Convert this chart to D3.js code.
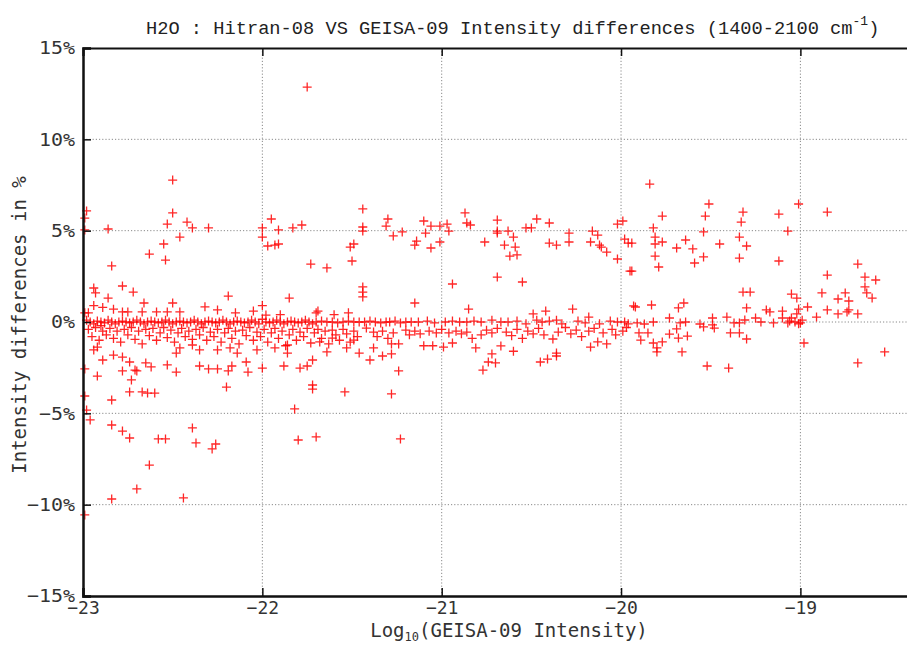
<!DOCTYPE html>
<html>
<head>
<meta charset="utf-8">
<script src="https://cdn.jsdelivr.net/npm/d3@7"></script>
<style>
  body { margin: 0; background: #fff; }
  svg { display: block; }
</style>
</head>
<body>
<svg id="chart" width="907" height="646"></svg>
<script>
// axis ticks
var xTicks = [-23, -22, -21, -20, -19];
var yTicks = [-15, -10, -5, 0, 5, 10, 15];

// [log10 intensity, % difference]
// points well above the zero band
var upperPts = [
  [-22.98,6.08],[-22.99,5.69],[-22.99,5.04],[-22.86,5.09],[-22.84,3.07],
  [-22.50,7.77],[-22.50,5.97],[-22.53,5.36],[-22.42,5.47],[-22.39,5.15],[-22.30,5.15],[-22.46,4.65],[-22.55,4.27],[-22.63,3.72],[-22.54,3.39],
  [-22.00,5.15],[-21.95,5.64],[-21.91,5.04],[-21.83,5.15],[-21.78,5.31],[-22.00,4.65],[-21.97,4.16],[-21.93,4.21],[-21.91,4.27],[-21.73,3.17],[-21.64,2.96],
  [-21.44,6.19],[-21.44,5.20],[-21.44,4.98],[-21.51,4.10],[-21.49,4.27],[-21.50,3.34],[-21.44,1.92],[-21.44,1.64],[-21.44,1.37],
  [-22.19,1.42],[-22.78,1.97],[-22.72,1.64],[-22.94,1.86],[-22.93,1.59],[-22.86,1.31],[-22.66,1.04],[-21.85,1.31],
  [-21.30,5.64],[-21.31,5.25],[-21.27,4.71],[-21.22,4.93],[-21.10,5.53],[-21.06,5.25],[-21.09,4.87],[-21.14,4.43],[-21.15,4.21],[-21.06,4.05],
  [-21.01,5.25],[-20.97,5.36],[-20.96,4.98],[-21.01,4.38],[-20.87,5.97],[-20.86,5.42],[-20.84,5.31],[-20.76,4.38],[-20.69,5.58],[-20.69,4.98],
  [-20.69,4.87],[-20.63,4.98],[-20.60,4.65],[-20.65,4.21],[-20.59,4.10],[-20.62,3.61],[-20.58,3.67],[-20.53,5.15],[-20.50,5.15],[-20.47,5.64],
  [-20.40,5.42],[-20.40,4.32],[-20.36,4.21],[-20.29,4.87],[-20.29,4.38],[-20.17,4.38],[-20.16,4.98],[-20.13,4.76],[-20.12,4.21],[-20.11,4.10],
  [-20.08,3.83],[-20.02,3.45],[-20.02,5.36],[-19.99,5.53],[-19.98,4.54],[-19.96,4.32],[-19.95,2.79],[-20.69,2.46],[-20.55,2.19],[-20.94,2.08],
  [-21.15,1.04],[-20.85,0.71],[-20.49,0.44],[-20.42,0.60],[-20.27,0.71],[-20.18,0.27],[-19.93,0.88],
  [-19.84,7.55],[-19.51,6.46],[-19.77,5.80],[-19.53,5.80],[-19.32,6.02],[-19.33,5.47],[-19.12,5.91],[-19.01,6.46],[-18.85,6.02],[-19.82,5.15],
  [-19.54,4.93],[-19.07,4.98],[-19.81,4.65],[-19.77,4.38],[-19.64,4.49],[-19.69,4.05],[-19.60,4.00],[-19.45,4.27],[-19.34,4.65],[-19.30,4.16],
  [-19.81,4.27],[-19.81,3.61],[-19.79,3.01],[-19.59,3.23],[-19.54,3.56],[-19.34,3.50],[-19.12,3.34],[-19.94,4.32],[-19.94,2.79],[-18.68,3.17],
  [-18.85,2.57],[-18.64,2.46],[-18.58,2.30],[-18.64,1.92],[-18.63,1.59],[-18.60,1.31],[-18.88,1.59],[-18.75,1.59],[-18.79,1.26],[-18.73,1.15],
  [-19.32,1.64],[-19.28,1.64],[-19.05,1.53],[-19.02,1.31]
];

// the single big outlier
var outlierPts = [[-21.75,12.86]];

// the dense band around 0%
var bandPts = [
  [-22.98,0.1],[-22.96,0],[-22.94,-0.1],[-22.92,0.05],[-22.90,0],[-22.88,-0.05],[-22.86,0.1],[-22.84,0],[-22.82,-0.1],[-22.80,0],
  [-22.78,0.05],[-22.76,0],[-22.74,-0.05],[-22.72,0],[-22.70,0.1],[-22.68,0],[-22.66,-0.1],[-22.64,0],[-22.62,0.05],[-22.60,0],
  [-22.58,-0.05],[-22.56,0],[-22.54,0.1],[-22.52,0],[-22.50,-0.1],[-22.48,0],[-22.46,0.05],[-22.44,0],[-22.42,-0.05],[-22.40,0],
  [-22.38,0.1],[-22.36,0],[-22.34,-0.1],[-22.32,0],[-22.30,0.05],[-22.28,0],[-22.26,-0.05],[-22.24,0],[-22.22,0.1],[-22.20,0],
  [-22.18,-0.1],[-22.16,0],[-22.14,0.05],[-22.12,0],[-22.10,-0.05],[-22.08,0],[-22.06,0.1],[-22.04,0],[-22.02,-0.1],[-22.00,0.15],
  [-21.98,0],[-21.96,-0.05],[-21.94,0],[-21.92,0.1],[-21.90,0],[-21.88,-0.1],[-21.86,0],[-21.84,0.05],[-21.82,0],[-21.80,-0.05],
  [-21.78,0],[-21.76,0.1],[-21.74,0],[-21.72,-0.1],[-21.70,0],[-21.67,0.05],[-21.64,0],[-21.61,0],[-21.58,-0.05],[-21.55,0],
  [-21.52,0.05],[-21.49,0],[-21.46,0],
  [-21.43,0],[-21.40,0.05],[-21.37,0],[-21.34,-0.05],[-21.31,0],[-21.29,0],[-21.26,0.05],[-21.23,-0.05],[-21.20,0],[-21.17,0],
  [-21.13,0],[-21.08,0.05],[-21.04,-0.05],[-20.98,0],[-20.94,0.05],[-20.90,0],[-20.86,0],[-20.82,0.05],[-20.78,0],[-20.72,0.1],
  [-20.67,0],[-20.63,0],[-20.58,0.05],[-20.53,-0.1],[-20.47,0.1],[-20.44,0],[-20.40,0.05],[-20.36,0.1],[-20.33,-0.1],[-20.24,0.05],
  [-20.20,-0.05],[-20.12,-0.1],[-20.06,0.05],[-20.02,0],[-19.98,0],[-19.96,-0.1],
  [-19.92,0.82],[-19.83,0.93],[-19.65,1.04],[-19.68,0.77],[-19.30,0.77],[-19.19,0.66],[-19.10,0.60],[-19.01,0.71],[-18.96,0.82],[-18.85,0.66],
  [-18.73,0.66],[-18.68,0.44],[-18.79,0.44],[-18.74,0.55],[-18.91,0.27],
  [-19.91,-0.05],[-19.87,-0.11],[-19.82,0],[-19.73,0.22],[-19.67,-0.05],[-19.64,0],[-19.56,-0.11],[-19.49,0.22],[-19.49,-0.16],[-19.48,-0.33],
  [-19.41,0.27],[-19.37,-0.05],[-19.34,-0.05],[-19.31,0.11],[-19.25,0.22],[-19.22,0],[-19.17,0.55],[-19.15,-0.05],[-19.10,0.22],[-19.07,-0.05],
  [-19.05,0.22],[-19.02,0.44],[-19.00,-0.05],[-19.03,0],[-19.01,-0.1],[-18.99,0.1],[-19.06,0.05],
  [-22.97,0.5],[-22.94,0.9],[-22.89,0.8],[-22.83,0.7],[-22.78,0.55],[-22.99,0.5],[-22.75,0.55],[-22.67,0.55],[-22.59,0.55],[-22.53,0.55],
  [-22.46,0.55],[-22.32,0.83],[-22.25,0.66],[-22.90,-0.2],[-22.50,1.04],[-22.15,0.5],[-22.05,0.6],[-21.90,0.4],[-22.00,0.9],[-21.70,0.5],
  [-21.69,0.6],[-21.60,0.4],[-21.52,0.5],[-21.98,0.38]
];

// just under the band
var subBandPts = [
  [-22.97,-0.4],[-22.95,-0.8],[-22.93,-0.3],[-22.91,-1.0],[-22.89,-0.5],[-22.87,-0.7],[-22.85,-0.35],[-22.83,-0.9],[-22.81,-0.5],[-22.79,-1.1],
  [-22.77,-0.4],[-22.75,-0.7],[-22.73,-0.3],[-22.71,-0.95],[-22.69,-0.5],[-22.67,-1.2],[-22.65,-0.4],[-22.63,-0.75],[-22.61,-0.35],[-22.59,-1.0],
  [-22.57,-0.6],[-22.55,-0.3],[-22.53,-0.85],[-22.51,-0.45],[-22.49,-1.1],[-22.47,-0.6],[-22.45,-0.35],[-22.43,-0.8],[-22.41,-0.5],[-22.39,-0.95],
  [-22.37,-0.4],[-22.35,-0.7],[-22.33,-0.3],[-22.31,-1.0],[-22.29,-0.55],[-22.27,-0.8],[-22.25,-0.4],[-22.23,-1.1],[-22.21,-0.6],[-22.19,-0.35],
  [-22.17,-0.9],[-22.15,-0.5],[-22.13,-1.2],[-22.11,-0.45],[-22.09,-0.75],[-22.07,-0.3],[-22.05,-1.0],[-22.03,-0.55],[-22.01,-0.8],[-21.99,-0.4],
  [-21.97,-1.1],[-21.95,-0.6],[-21.93,-0.35],[-21.91,-0.9],[-21.89,-0.5],[-21.87,-1.3],[-21.85,-0.7],[-21.83,-0.4],[-21.81,-1.0],[-21.79,-0.55],
  [-21.77,-0.8],[-21.75,-0.35],[-21.73,-1.15],[-21.71,-0.6],[-21.69,-0.4],[-21.67,-0.9],[-21.65,-0.5],[-21.63,-1.2],[-21.61,-0.45],[-21.59,-0.7],
  [-21.57,-1.0],[-21.55,-0.4],[-21.53,-0.65],[-21.51,-1.1],[-21.49,-0.5],[-21.47,-0.8],
  [-21.42,-0.33],[-21.38,-0.55],[-21.36,-0.8],[-21.33,-0.5],[-21.30,-0.9],[-21.27,-0.6],[-21.24,-1.2],[-21.20,-0.45],[-21.18,-0.7],[-21.15,-0.5],
  [-21.12,-0.65],[-21.10,-1.3],[-21.07,-0.5],[-21.05,-1.3],[-21.03,-0.6],[-21.00,-0.4],[-20.99,-1.37],[-20.96,-0.6],[-20.94,-1.15],[-20.92,-0.5],
  [-20.89,-0.65],[-20.86,-0.55],[-20.83,-0.9],[-20.81,-1.42],[-20.78,-0.7],[-20.75,-0.45],[-20.72,-0.6],[-20.69,-0.35],[-20.67,-1.31],[-20.64,-0.55],
  [-20.61,-0.75],[-20.58,-0.4],[-20.55,-0.9],[-20.52,-0.5],[-20.49,-0.65],[-20.46,-0.35],[-20.43,-0.7],[-20.38,-0.93],[-20.35,-0.55],[-20.31,-0.3],
  [-20.28,-0.65],[-20.25,-0.45],[-20.22,-0.8],[-20.18,-0.5],[-20.15,-0.35],[-20.13,-1.09],[-20.10,-0.6],[-20.08,-1.2],[-20.05,-0.4],[-20.03,-0.7],
  [-19.99,-0.5],[-19.97,-0.3],
  [-19.90,-0.60],[-19.85,-0.60],[-19.89,-0.99],[-19.82,-1.15],[-19.80,-1.42],[-19.80,-1.64],[-19.77,-1.09],[-19.73,-0.66],[-19.69,-0.38],[-19.68,-0.88],
  [-19.63,-0.77],[-19.66,-1.64],[-19.54,-0.27],[-19.39,-0.60],[-19.34,-0.60],[-19.30,-0.93],[-18.98,-1.15]
];

// points further down
var lowerPts = [
  [-21.24,-2.68],[-20.77,-2.63],[-20.72,-1.75],[-20.70,-2.24],[-20.74,-2.19],[-20.45,-2.19],[-20.41,-2.03],[-20.36,-1.70],[-20.36,-1.86],[-21.28,-1.20],
  [-21.28,-1.75],[-21.33,-1.86],[-21.28,-3.94],[-21.23,-6.40],[-20.17,-1.37],[-20.60,-1.60],
  [-19.52,-2.41],[-19.40,-2.52],[-18.68,-2.24],[-18.53,-1.64],
  [-22.99,-2.57],[-22.92,-2.96],[-22.99,-4.05],[-22.98,-4.82],[-22.96,-5.36],[-22.99,-10.56],[-22.84,-4.27],[-22.84,-5.64],[-22.78,-5.97],[-22.74,-6.35],
  [-22.74,-3.83],[-22.67,-3.83],[-22.64,-3.89],[-22.60,-3.89],[-22.73,-3.17],[-22.78,-2.68],[-22.70,-2.68],[-22.63,-7.83],[-22.70,-9.14],[-22.84,-9.69],
  [-22.58,-6.40],[-22.54,-6.40],[-22.39,-5.80],[-22.37,-6.62],[-22.28,-6.95],[-22.26,-6.68],[-22.44,-9.63],[-22.20,-3.56],[-22.35,-2.41],[-22.30,-2.57],
  [-22.25,-2.57],[-22.19,-2.68],[-22.17,-2.41],[-22.08,-2.74],[-22.00,-2.52],[-22.09,-2.19],[-22.48,-2.74],[-21.82,-4.76],[-21.80,-6.46],[-21.70,-6.29],
  [-21.72,-3.45],[-21.72,-3.67],[-21.54,-3.83],[-21.88,-2.41],[-21.79,-2.52],[-21.75,-2.41],[-21.72,-2.08],
  [-22.89,-2.08],[-22.94,-1.53],[-22.92,-1.37],[-22.83,-1.81],[-22.78,-1.92],[-22.74,-2.19],[-22.71,-2.63],[-22.65,-2.24],[-22.62,-2.46],[-22.53,-2.35],
  [-22.48,-1.70],[-22.46,-1.42],[-22.39,-1.26],[-22.35,-1.53],[-22.25,-1.53],[-22.18,-1.42],[-22.14,-1.70],[-22.03,-1.53],[-21.93,-1.42],[-21.86,-1.70],
  [-21.64,-1.64],[-21.53,-1.42],[-21.46,-1.70],[-21.40,-2.08],[-21.38,-1.42],[-21.86,-1.26],[-21.68,-1.09],[-21.61,-0.88],[-21.49,-0.99]
];

var svg = d3.select("#chart"),
    width = +svg.attr("width"),
    height = +svg.attr("height");

var x = d3.scaleLinear().domain([-23, -18.4]).range([83, 908]);
var y = d3.scaleLinear().domain([-15, 15]).range([596, 48]);

var tickFont = "DejaVu Sans Mono";
var minus = function(v) { return String(v).replace("-", "\u2212"); };

// dotted grid
svg.append("g").selectAll("line")
    .data(xTicks.filter(function(d) { return d > -23; }))
  .enter().append("line")
    .attr("x1", function(d) { return x(d); })
    .attr("x2", function(d) { return x(d); })
    .attr("y1", y(15)).attr("y2", y(-15))
    .attr("stroke", "#8a8a8a").attr("stroke-width", 1)
    .attr("stroke-dasharray", "1.2,2");

svg.append("g").selectAll("line")
    .data(yTicks.filter(function(d) { return d > -15 && d < 15; }))
  .enter().append("line")
    .attr("x1", x(-23)).attr("x2", width)
    .attr("y1", function(d) { return y(d); })
    .attr("y2", function(d) { return y(d); })
    .attr("stroke", "#8a8a8a").attr("stroke-width", 1)
    .attr("stroke-dasharray", "1.2,2");

// points
var allPts = upperPts.concat(outlierPts, bandPts, subBandPts, lowerPts);
svg.append("g").selectAll("path")
    .data(allPts)
  .enter().append("path")
    .attr("transform", function(d) { return "translate(" + x(d[0]) + "," + y(d[1]) + ")"; })
    .attr("d", "M-4.5,0H4.5M0,-4.5V4.5")
    .attr("stroke", "#ff0000")
    .attr("stroke-opacity", 0.85)
    .attr("stroke-width", 1.3)
    .attr("fill", "none");

// axes
var xAxis = d3.axisBottom(x).tickValues(xTicks).tickSize(-8).tickPadding(5)
    .tickFormat(function(d) { return minus(d); });
var xAxisTop = d3.axisTop(x).tickValues(xTicks).tickSize(-8).tickFormat("");
var yAxis = d3.axisLeft(y).tickValues(yTicks).tickSize(-8).tickPadding(8)
    .tickFormat(function(d) { return minus(d) + "%"; });

svg.append("g")
    .attr("transform", "translate(0," + y(-15) + ")")
    .call(customXAxis);

svg.append("g")
    .attr("transform", "translate(0," + y(15) + ")")
    .call(function(g) {
      g.call(xAxisTop);
      g.select(".domain").attr("stroke", "#111").attr("stroke-width", 2);
      g.selectAll(".tick line").attr("stroke", "#111").attr("stroke-width", 1.5);
    });

svg.append("g")
    .attr("transform", "translate(" + x(-23) + ",0)")
    .call(customYAxis);

function customXAxis(g) {
  g.call(xAxis);
  g.select(".domain").attr("stroke", "#111").attr("stroke-width", 2.5);
  g.selectAll(".tick line").attr("stroke", "#111").attr("stroke-width", 1.5);
  g.selectAll(".tick text").attr("fill", "#333").attr("font-family", tickFont).attr("font-size", 18);
}

function customYAxis(g) {
  g.call(yAxis);
  g.select(".domain").attr("stroke", "#111").attr("stroke-width", 2.5);
  g.selectAll(".tick line").attr("stroke", "#111").attr("stroke-width", 1.5);
  g.selectAll(".tick text").attr("fill", "#333").attr("font-family", tickFont).attr("font-size", 18)
      .attr("textLength", function(d) { return minus(d).length * 12 + 12; })
      .attr("lengthAdjust", "spacingAndGlyphs");
}

// title
var title = svg.append("text")
    .attr("x", 146).attr("y", 34)
    .attr("font-family", "Liberation Mono")
    .attr("font-size", 18.7)
    .attr("fill", "#222");
title.append("tspan").text("H2O : Hitran-08 VS GEISA-09 Intensity differences (1400-2100  cm");
title.append("tspan").attr("dy", -9).attr("font-size", 13).text("-1");
title.append("tspan").attr("dy", 9).text(")");

// axis labels
var xLabel = svg.append("text")
    .attr("x", 509).attr("y", 637)
    .attr("text-anchor", "middle")
    .attr("font-family", tickFont)
    .attr("font-size", 19)
    .attr("fill", "#333");
xLabel.append("tspan").text("Log");
xLabel.append("tspan").attr("dy", 4).attr("font-size", 12).text("10");
xLabel.append("tspan").attr("dy", -4).text("(GEISA-09 Intensity)");

svg.append("text")
    .attr("transform", "translate(26,325) rotate(-90)")
    .attr("text-anchor", "middle")
    .attr("font-family", tickFont)
    .attr("font-size", 19)
    .attr("fill", "#333")
    .text("Intensity differences in %");
</script>
</body>
</html>
